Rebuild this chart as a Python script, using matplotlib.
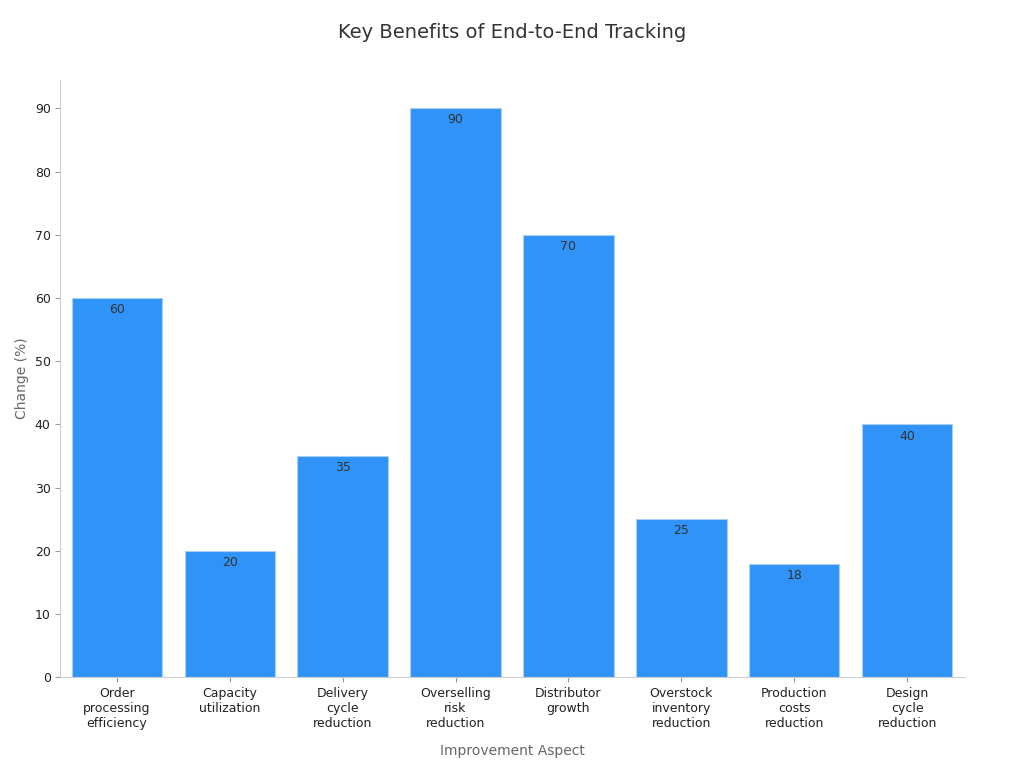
import matplotlib.pyplot as plt

categories = ["Order\nprocessing\nefficiency", "Capacity\nutilization", "Delivery\ncycle\nreduction",
              "Overselling\nrisk\nreduction", "Distributor\ngrowth", "Overstock\ninventory\nreduction",
              "Production\ncosts\nreduction", "Design\ncycle\nreduction"]
values = [60, 20, 35, 90, 70, 25, 18, 40]
yticks = [0, 10, 20, 30, 40, 50, 60, 70, 80, 90]

fig = plt.figure(figsize=(10.24, 7.68), dpi=100)
ax = fig.add_axes([0.059, 0.118, 0.882, 0.778])
x = range(len(values))
bars = ax.bar(x, values, width=0.8, color="#2f93f7", edgecolor="#a9cff5", linewidth=0.8)
for xi, v in zip(x, values):
    ax.text(xi, v - 0.8, str(v), ha="center", va="top", fontsize=9, color="#333333")
ax.set_xlim(-0.5, 7.5)
ax.set_ylim(0, 94.5)
ax.set_yticks(yticks)
ax.set_xticks(list(x))
ax.set_xticklabels(categories, fontsize=9, color="#222222")
ax.tick_params(axis="y", labelsize=9, colors="#222222")
ax.tick_params(color="#999999")
for s in ["top", "right"]:
    ax.spines[s].set_visible(False)
for s in ["left", "bottom"]:
    ax.spines[s].set_color("#cccccc")
ax.set_xlabel("Improvement Aspect", fontsize=10, color="#666666", labelpad=10)
ax.set_ylabel("Change (%)", fontsize=10, color="#666666")
fig.suptitle("Key Benefits of End-to-End Tracking", fontsize=14, color="#333333", y=0.97)
fig.savefig("out.png", dpi=100)
